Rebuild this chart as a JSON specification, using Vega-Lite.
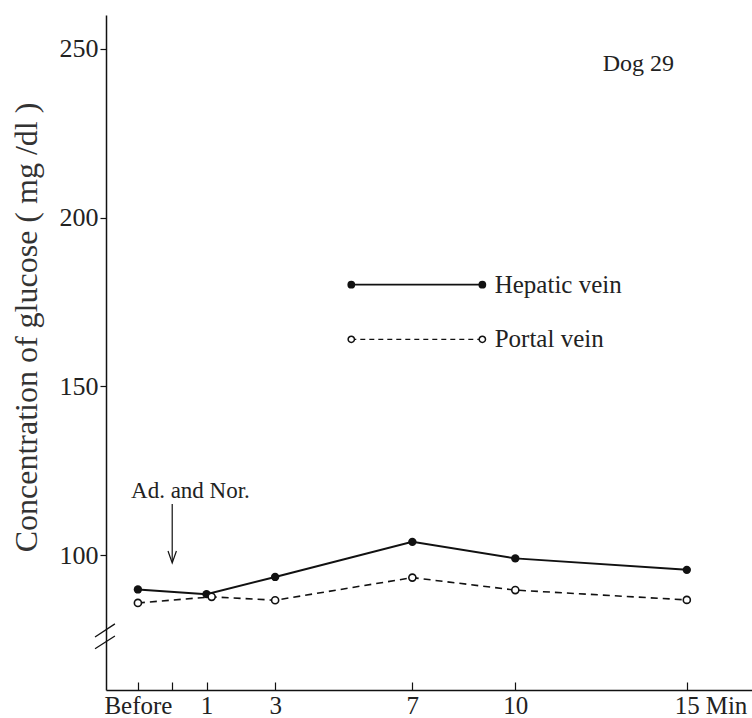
{
  "$schema": "https://vega.github.io/schema/vega-lite/v6.json",
  "width": 646,
  "height": 675,
  "autosize": {"type": "none"},
  "padding": {"left": 106, "top": 15, "right": 0, "bottom": 28},
  "background": "white",
  "config": {
    "font": "Liberation Serif",
    "text": {"font": "Liberation Serif"},
    "view": {"stroke": null},
    "axis": {"domainColor": "#111", "tickColor": "#111", "labelColor": "#222", "titleColor": "#333", "labelFont": "Liberation Serif", "titleFont": "Liberation Serif", "grid": false}
  },
  "datasets": {
    "series": [
      {"t": -1, "v": 89.8, "s": "Hepatic vein"},
      {"t": 1, "v": 88.4, "s": "Hepatic vein"},
      {"t": 3, "v": 93.5, "s": "Hepatic vein"},
      {"t": 7, "v": 103.9, "s": "Hepatic vein"},
      {"t": 10, "v": 99.0, "s": "Hepatic vein"},
      {"t": 15, "v": 95.6, "s": "Hepatic vein"},
      {"t": -1, "v": 85.8, "s": "Portal vein"},
      {"t": 1.15, "v": 87.6, "s": "Portal vein"},
      {"t": 3, "v": 86.6, "s": "Portal vein"},
      {"t": 7, "v": 93.3, "s": "Portal vein"},
      {"t": 10, "v": 89.6, "s": "Portal vein"},
      {"t": 15, "v": 86.7, "s": "Portal vein"}
    ],
    "legend": [
      {"x1": 5.22, "x2": 9.04, "y": 180.1, "tx": 9.4, "s": "Hepatic vein"},
      {"x1": 5.22, "x2": 9.04, "y": 163.9, "tx": 9.4, "s": "Portal vein"}
    ],
    "breaks": [
      {"x1": -2.25, "x2": -1.67, "y1": 75.7, "y2": 79.6},
      {"x1": -2.25, "x2": -1.67, "y1": 72.2, "y2": 76.0}
    ]
  },
  "layer": [
    {
      "data": {"name": "series"},
      "transform": [{"filter": "datum.s === 'Hepatic vein'"}],
      "mark": {"type": "line", "color": "#111", "strokeWidth": 2},
      "encoding": {
        "x": {"field": "t", "type": "quantitative", "scale": {"domain": [-1.93, 16.9], "nice": false, "zero": false},
          "axis": {"values": [-1, 0, 1, 3, 7, 10, 15], "labelExpr": "datum.value == -1 ? 'Before' : datum.value == 0 ? '' : datum.label", "title": null, "tickSize": -8, "labelFontSize": 25, "labelPadding": 11, "labelBaseline": "top", "domainWidth": 1.5, "tickWidth": 1.2, "labelFlush": false, "labelOverlap": false}},
        "y": {"field": "v", "type": "quantitative", "scale": {"domain": [60, 260], "nice": false, "zero": false},
          "axis": {"values": [100, 150, 200, 250], "title": "Concentration of glucose ( mg /dl )", "titleFontSize": 32, "titleFontWeight": "normal", "titleX": -80, "titleY": 312, "titleAngle": -90, "titleAlign": "center", "titleBaseline": "middle", "labelFontSize": 26, "tickSize": 6, "labelPadding": 2, "domainWidth": 1.5, "tickWidth": 1.2}}
      }
    },
    {
      "data": {"name": "series"},
      "transform": [{"filter": "datum.s === 'Portal vein'"}],
      "mark": {"type": "line", "color": "#111", "strokeWidth": 1.6, "strokeDash": [7, 5]},
      "encoding": {
        "x": {"field": "t", "type": "quantitative"},
        "y": {"field": "v", "type": "quantitative"}
      }
    },
    {
      "data": {"name": "series"},
      "transform": [{"filter": "datum.s === 'Hepatic vein'"}],
      "mark": {"type": "point", "shape": "circle", "filled": true, "color": "#111", "size": 70, "opacity": 1},
      "encoding": {
        "x": {"field": "t", "type": "quantitative"},
        "y": {"field": "v", "type": "quantitative"}
      }
    },
    {
      "data": {"name": "series"},
      "transform": [{"filter": "datum.s === 'Portal vein'"}],
      "mark": {"type": "point", "shape": "circle", "filled": true, "fill": "white", "stroke": "#111", "strokeWidth": 1.6, "size": 50, "opacity": 1},
      "encoding": {
        "x": {"field": "t", "type": "quantitative"},
        "y": {"field": "v", "type": "quantitative"}
      }
    },
    {
      "data": {"name": "legend"},
      "transform": [{"filter": "datum.s === 'Hepatic vein'"}],
      "mark": {"type": "rule", "color": "#111", "strokeWidth": 1.8},
      "encoding": {
        "x": {"field": "x1", "type": "quantitative"},
        "x2": {"field": "x2"},
        "y": {"field": "y", "type": "quantitative"}
      }
    },
    {
      "data": {"name": "legend"},
      "transform": [{"filter": "datum.s === 'Portal vein'"}],
      "mark": {"type": "rule", "color": "#111", "strokeWidth": 1.4, "strokeDash": [5, 4]},
      "encoding": {
        "x": {"field": "x1", "type": "quantitative"},
        "x2": {"field": "x2"},
        "y": {"field": "y", "type": "quantitative"}
      }
    },
    {
      "data": {"name": "legend"},
      "transform": [{"fold": ["x1", "x2"], "as": ["k", "px"]}, {"filter": "datum.s === 'Hepatic vein'"}],
      "mark": {"type": "point", "shape": "circle", "filled": true, "color": "#111", "size": 60, "opacity": 1},
      "encoding": {
        "x": {"field": "px", "type": "quantitative"},
        "y": {"field": "y", "type": "quantitative"}
      }
    },
    {
      "data": {"name": "legend"},
      "transform": [{"fold": ["x1", "x2"], "as": ["k", "px"]}, {"filter": "datum.s === 'Portal vein'"}],
      "mark": {"type": "point", "shape": "circle", "filled": true, "fill": "white", "stroke": "#111", "strokeWidth": 1.5, "size": 40, "opacity": 1},
      "encoding": {
        "x": {"field": "px", "type": "quantitative"},
        "y": {"field": "y", "type": "quantitative"}
      }
    },
    {
      "data": {"name": "legend"},
      "mark": {"type": "text", "align": "left", "baseline": "middle", "fontSize": 25, "color": "#222", "font": "Liberation Serif"},
      "encoding": {
        "x": {"field": "tx", "type": "quantitative"},
        "y": {"field": "y", "type": "quantitative"},
        "text": {"field": "s"}
      }
    },
    {
      "data": {"values": [{"x": 12.55, "y": 245.6, "label": "Dog  29"}]},
      "mark": {"type": "text", "align": "left", "baseline": "middle", "fontSize": 24, "color": "#222", "font": "Liberation Serif"},
      "encoding": {
        "x": {"field": "x", "type": "quantitative"},
        "y": {"field": "y", "type": "quantitative"},
        "text": {"field": "label"}
      }
    },
    {
      "data": {"values": [{"x": -1.2, "y": 118.9, "label": "Ad. and Nor."}]},
      "mark": {"type": "text", "align": "left", "baseline": "middle", "fontSize": 23, "color": "#222", "font": "Liberation Serif"},
      "encoding": {
        "x": {"field": "x", "type": "quantitative"},
        "y": {"field": "y", "type": "quantitative"},
        "text": {"field": "label"}
      }
    },
    {
      "data": {"values": [{"x": 15.55, "y": 55.4, "label": "Min"}]},
      "mark": {"type": "text", "align": "left", "baseline": "middle", "fontSize": 25, "color": "#222", "font": "Liberation Serif"},
      "encoding": {
        "x": {"field": "x", "type": "quantitative"},
        "y": {"field": "y", "type": "quantitative"},
        "text": {"field": "label"}
      }
    },
    {
      "data": {"values": [{"x": 0, "y1": 115.1, "y2": 98.2}]},
      "mark": {"type": "rule", "color": "#111", "strokeWidth": 1.2},
      "encoding": {
        "x": {"field": "x", "type": "quantitative"},
        "y": {"field": "y1", "type": "quantitative"},
        "y2": {"field": "y2"}
      }
    },
    {
      "data": {"values": [{"x": 0, "y": 99.4}]},
      "mark": {"type": "point", "shape": "M-0.7,-1L0,1L0.7,-1", "filled": false, "stroke": "#111", "strokeWidth": 1.2, "size": 144, "opacity": 1},
      "encoding": {
        "x": {"field": "x", "type": "quantitative"},
        "y": {"field": "y", "type": "quantitative"}
      }
    },
    {
      "data": {"name": "breaks"},
      "mark": {"type": "rule", "color": "#111", "strokeWidth": 1.3},
      "encoding": {
        "x": {"field": "x1", "type": "quantitative"},
        "x2": {"field": "x2"},
        "y": {"field": "y1", "type": "quantitative"},
        "y2": {"field": "y2"}
      }
    }
  ]
}
